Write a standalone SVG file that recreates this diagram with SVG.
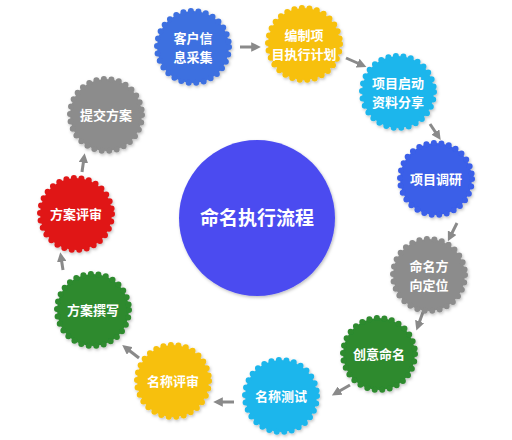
<svg xmlns="http://www.w3.org/2000/svg" width="512" height="440" viewBox="0 0 512 440">
<defs>
<marker id="ah" viewBox="0 0 10 10" refX="5" refY="5" markerWidth="3.2" markerHeight="3.2" orient="auto" markerUnits="strokeWidth">
<path d="M0,0 L10,5 L0,10 z" fill="#8a8a8a"/>
</marker>
<filter id="sh" x="-20%" y="-20%" width="140%" height="140%">
<feDropShadow dx="1" dy="1.5" stdDeviation="1.5" flood-color="#000" flood-opacity="0.25"/>
</filter>
</defs>
<style>
.n{stroke-width:6;stroke-dasharray:0 7.6;stroke-linecap:round;filter:url(#sh)}
.t{font-family:"Noto Sans CJK SC","Noto Sans",sans-serif;font-weight:bold;fill:#fff;text-anchor:middle;font-size:13px}
.c{stroke:#8a8a8a;stroke-width:3;fill:none;marker-end:url(#ah)}
.blue{fill:#3d6fe0;stroke:#3d6fe0}
.blue2{fill:#3a5ee8;stroke:#3a5ee8}
.yel{fill:#f7c00a;stroke:#f7c00a}
.cyan{fill:#1fb6ec;stroke:#1fb6ec}
.gray{fill:#8c8c8c;stroke:#8c8c8c}
.grn{fill:#2d8a2f;stroke:#2d8a2f}
.red{fill:#e01818;stroke:#e01818}
</style>
<rect width="512" height="440" fill="#fff"/>
<g id="connectors">
<path class="c" d="M240,47 L256,47"/>
<path class="c" d="M346,58 L362,65"/>
<path class="c" d="M430,124 L438,136"/>
<path class="c" d="M457,223 L450,237"/>
<path class="c" d="M423,312 L418,326"/>
<path class="c" d="M350,385 L336,393"/>
<path class="c" d="M234,402 L218,402"/>
<path class="c" d="M139,358 L126,348"/>
<path class="c" d="M63,270 L61,257"/>
<path class="c" d="M82,172 L84,158"/>
</g>
<g id="center">
<circle cx="257" cy="218" r="78" fill="#4b4cf0" filter="url(#sh)"/>
<text class="t" x="257" y="225" style="font-size:19px">命名执行流程</text>
</g>
<g id="n1"><circle class="n blue" cx="193" cy="47" r="36"/><text class="t" x="193" y="43">客户信</text><text class="t" x="193" y="62">息采集</text></g>
<g id="n2"><circle class="n yel" cx="304" cy="44" r="36"/><text class="t" x="304" y="40">编制项</text><text class="t" x="304" y="59">目执行计划</text></g>
<g id="n3"><circle class="n cyan" cx="398" cy="92" r="36"/><text class="t" x="398" y="88">项目启动</text><text class="t" x="398" y="107">资料分享</text></g>
<g id="n4"><circle class="n blue2" cx="436" cy="179" r="36"/><text class="t" x="436" y="184">项目调研</text></g>
<g id="n5"><circle class="n gray" cx="429" cy="275" r="36"/><text class="t" x="429" y="271">命名方</text><text class="t" x="429" y="290">向定位</text></g>
<g id="n6"><circle class="n grn" cx="379" cy="354" r="36"/><text class="t" x="379" y="359">创意命名</text></g>
<g id="n7"><circle class="n cyan" cx="281" cy="396" r="36"/><text class="t" x="281" y="401">名称测试</text></g>
<g id="n8"><circle class="n yel" cx="173" cy="381" r="36"/><text class="t" x="173" y="386">名称评审</text></g>
<g id="n9"><circle class="n grn" cx="93" cy="310" r="36"/><text class="t" x="93" y="315">方案撰写</text></g>
<g id="n10"><circle class="n red" cx="76" cy="214" r="36"/><text class="t" x="76" y="219">方案评审</text></g>
<g id="n11"><circle class="n gray" cx="106" cy="115" r="36"/><text class="t" x="106" y="120">提交方案</text></g>
</svg>
